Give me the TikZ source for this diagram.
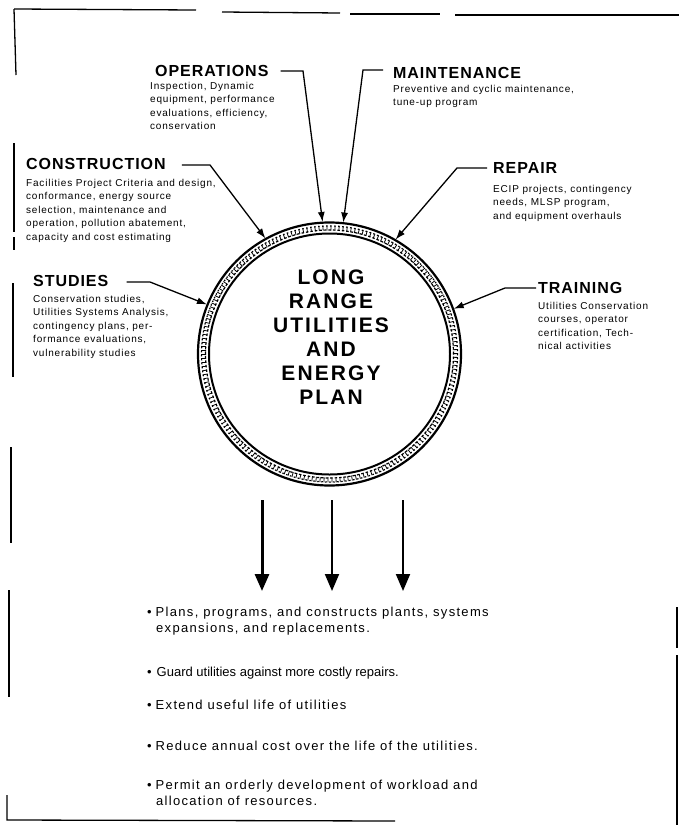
\documentclass[tikz,border=0pt]{standalone}
\usepackage{fontspec}
\setmainfont{Liberation Sans}
\newfontfamily\headfont[LetterSpace=6]{Liberation Sans}
\newfontfamily\bodyfont[LetterSpace=8]{Liberation Sans}
\newfontfamily\listfont[LetterSpace=10]{Liberation Sans}
\newfontfamily\narrowlistfont{Liberation Sans}
\newfontfamily\hubfont[LetterSpace=10]{Liberation Sans}
\usetikzlibrary{arrows.meta}

\begin{document}
\begin{tikzpicture}[x=1pt,y=-1pt,
  head/.style={anchor=base west, inner sep=0pt,
    font=\headfont\fontsize{16}{18}\selectfont\bfseries},
  desc/.style={anchor=base west, inner sep=0pt,
    font=\bodyfont\fontsize{10}{13.6}\selectfont},
  item/.style={anchor=base west, inner sep=0pt,
    font=\listfont\fontsize{13}{16}\selectfont},
  feed/.style={line width=1.3pt, -{Latex[length=10pt,width=7pt]}},
  outflow/.style={-{Triangle[length=17pt,width=14pt]}},
  frameline/.style={line width=1.3pt}
]
\useasboundingbox (0,0) rectangle (679,825);

% outer frame, drawn in broken segments
\draw[frameline] (14,9) -- (196,10);
\draw[frameline] (222,12) -- (340,13);
\draw[frameline] (350,14) -- (440,14);
\draw[frameline] (455,15) -- (679,15);
\draw[frameline] (14,9) -- (16,75);
\draw[frameline] (14,143) -- (14,232);
\draw[frameline] (14,237) -- (14,250);
\draw[frameline] (13,283) -- (13,377);
\draw[frameline] (11,447) -- (11,543);
\draw[frameline] (9,590) -- (9,697);
\draw[frameline] (7,795) -- (7,820) -- (395,821);
\draw[frameline] (677,607) -- (677,648);
\draw[frameline] (677,655) -- (677,825);

% central ring with a textured band
\node[circle, minimum size=264pt, inner sep=0pt, draw=none] (ring) at (329.5,354) {};
\draw[line width=5pt, dash pattern=on 0.8pt off 3.2pt] (ring.center) circle[radius=126pt];
\draw[line width=1.2pt, dash pattern=on 2.5pt off 2pt] (ring.center) circle[radius=124pt];
\draw[line width=1.2pt, dash pattern=on 1.5pt off 2.5pt, dash phase=1pt] (ring.center) circle[radius=128pt];
\draw[line width=2.2pt] (ring.center) circle[radius=131.5pt];
\draw[line width=2pt] (ring.center) circle[radius=120.5pt];
\node[inner sep=0pt, anchor=north, align=center,
  font=\hubfont\fontsize{21}{24}\selectfont\bfseries] (hub) at (331,270)
  {LONG\\RANGE\\UTILITIES\\AND\\ENERGY\\PLAN};

% activity headings and their descriptions
\node[head] (ops) at (155,76) {OPERATIONS};
\node[desc] (opsd) at (150,89) {\parbox[t]{150pt}{\raggedright
  Inspection, Dynamic\\equipment, performance\\evaluations, efficiency,\\conservation}};

\node[head] (mnt) at (393,78) {MAINTENANCE};
\node[desc] (mntd) at (393,92) {\parbox[t]{230pt}{\raggedright
  Preventive and cyclic maintenance,\\tune-up program}};

\node[head] (con) at (26,169) {CONSTRUCTION};
\node[desc] (cond) at (26,186) {\parbox[t]{230pt}{\raggedright
  Facilities Project Criteria and design,\\conformance, energy source\\selection, maintenance and\\operation, pollution abatement,\\capacity and cost estimating}};

\node[head] (rep) at (493,173) {REPAIR};
\node[desc] (repd) at (493,192) {\parbox[t]{180pt}{\raggedright
  ECIP projects, contingency\\needs, MLSP program,\\and equipment overhauls}};

\node[head] (std) at (33,286) {STUDIES};
\node[desc] (stdd) at (33,302) {\parbox[t]{180pt}{\raggedright
  Conservation studies,\\Utilities Systems Analysis,\\contingency plans, per-\\formance evaluations,\\vulnerability studies}};

\node[head] (trn) at (538,293) {TRAINING};
\node[desc] (trnd) at (538,309) {\parbox[t]{140pt}{\raggedright
  Utilities Conservation\\courses, operator\\certification, Tech-\\nical activities}};

% bends of the feeding leaders
\coordinate (opsK) at (303,71);
\coordinate (mntK) at (363,70);
\coordinate (conK) at (210,165);
\coordinate (repK) at (457,168);
\coordinate (stdK) at (150,282);
\coordinate (trnK) at (505,288);

\draw[feed] ([xshift=12pt]ops.east |- opsK) -- (opsK) -- (ring.93);
\draw[feed] ([xshift=-10pt]mnt.west |- mntK) -- (mntK) -- (ring.84);
\draw[feed] ([xshift=16pt]con.east |- conK) -- (conK) -- (ring.119);
\draw[feed] ([xshift=-6pt]rep.west |- repK) -- (repK) -- (ring.60);
\draw[feed] ([xshift=18pt]std.east |- stdK) -- (stdK) -- (ring.158);
\draw[feed] ([xshift=-2pt]trn.west |- trnK) -- (trnK) -- (ring.20);

% results flowing out of the plan
\coordinate (o1) at (262,500); \coordinate (e1) at (262,591);
\coordinate (o2) at (332,500); \coordinate (e2) at (332,591);
\coordinate (o3) at (403,500); \coordinate (e3) at (403,591);
\draw[outflow, line width=3pt] (o1) -- (e1);
\draw[outflow, line width=2pt] (o2) -- (e2);
\draw[outflow, line width=2pt] (o3) -- (e3);

\node[item] (b1) at (147,616) {\parbox[t]{400pt}{\hangindent=9pt\hangafter=1
  \textbullet\hspace{4pt}Plans, programs, and constructs plants, systems\\expansions, and replacements.}};
\node[item, font=\narrowlistfont\fontsize{13}{16}\selectfont] (b2) at (147,676)
  {\textbullet\hspace{5pt}Guard utilities against more costly repairs.};
\node[item] (b3) at (147,709) {\textbullet\hspace{4pt}Extend useful life of utilities};
\node[item] (b4) at (147,750) {\textbullet\hspace{4pt}Reduce annual cost over the life of the utilities.};
\node[item] (b5) at (147,789) {\parbox[t]{400pt}{\hangindent=9pt\hangafter=1
  \textbullet\hspace{4pt}Permit an orderly development of workload and\\allocation of resources.}};
\end{tikzpicture}
\end{document}
